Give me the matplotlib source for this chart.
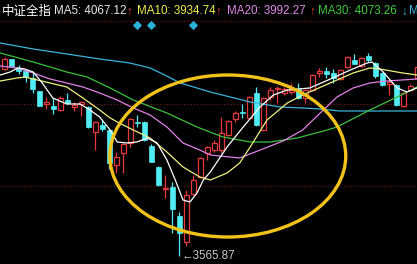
import numpy as np
import matplotlib.pyplot as plt
from matplotlib.patches import Ellipse

# header texts
index_name = "中证全指"
ma_labels = ["MA5: 4067.12", "MA10: 3934.74", "MA20: 3992.27", "MA30: 4073.26"]
ma_trend = ["↑", "↑", "↑", "↓"]
low_label = "3565.87"

# daily candles
opens = [4127, 4157, 4130, 4121, 4100, 4061, 4022, 4016, 4004, 4034,
         4013, 4022, 4013, 3938, 3959, 3944, 3839, 3875, 3905, 3968,
         3968, 3896, 3833, 3767, 3773, 3686, 3608, 3752, 3803, 3875,
         3884, 3884, 3929, 3977, 3998, 3980, 4055, 3944, 4043, 4067,
         4055, 4058, 4067, 4040, 4064, 4115, 4121, 4115, 4097, 4133,
         4154, 4136, 4166, 4145, 4115, 4082, 4079, 4016, 4064, 4100]
highs = [4163, 4157, 4139, 4124, 4118, 4061, 4043, 4040, 4046, 4055,
         4028, 4031, 4016, 3971, 3974, 3947, 3878, 3905, 3980, 3989,
         3971, 3902, 3836, 3809, 3788, 3698, 3764, 3809, 3863, 3896,
         3914, 3983, 3974, 4001, 4022, 4046, 4073, 4043, 4073, 4076,
         4073, 4085, 4085, 4067, 4112, 4130, 4133, 4127, 4127, 4166,
         4172, 4163, 4175, 4148, 4118, 4094, 4082, 4058, 4082, 4136]
lows = [4124, 4136, 4112, 4088, 4055, 4016, 4007, 3992, 4001, 4022,
        4001, 3986, 3950, 3884, 3941, 3827, 3815, 3815, 3893, 3953,
        3911, 3848, 3776, 3740, 3635, 3565.87, 3596, 3749, 3800, 3854,
        3878, 3875, 3926, 3968, 3980, 3977, 3956, 3941, 4034, 4025,
        4049, 4052, 4037, 4025, 4061, 4103, 4100, 4085, 4094, 4130,
        4142, 4133, 4148, 4100, 4076, 4049, 4016, 4013, 4061, 4097]
closes = [4157, 4136, 4121, 4103, 4067, 4016, 4028, 4007, 4040, 4025,
          4019, 4028, 3953, 3968, 3947, 3845, 3863, 3902, 3977, 3965,
          3914, 3848, 3779, 3770, 3707, 3635, 3749, 3794, 3860, 3893,
          3905, 3935, 3971, 3995, 3995, 4043, 3959, 4040, 4064, 4070,
          4067, 4064, 4040, 4064, 4109, 4121, 4112, 4100, 4124, 4163,
          4142, 4160, 4154, 4106, 4079, 4088, 4019, 4055, 4076, 4133]

# moving averages, sampled along the curves (x in candle index)
ma5_x = [-0.6, 0.8, 1.9, 2.9, 4.1, 5.4, 6.9, 8.9, 10.8, 12.2, 13.6, 15.1, 16.1,
         17.5, 18.9, 20.4, 21.8, 23.2, 24.4, 25.5, 26.5, 27.5, 28.4, 29.4,
         31.8, 34.1, 36.5, 38.4, 40.4, 43.6, 44.6, 46.9, 49.4, 51.8, 52.5,
         54.1, 56.1, 57.5, 58.9]
ma5_y = [4109, 4118, 4130, 4127, 4118, 4085, 4040, 4022, 4022, 4004, 3983, 3944,
         3908, 3905, 3908, 3920, 3905, 3854, 3794, 3734, 3728, 3755, 3794, 3818,
         3893, 3953, 4013, 4049, 4064, 4070, 4079, 4100, 4124, 4145, 4148,
         4118, 4070, 4058, 4070]
ma10_x = [-0.6, 1.8, 2.9, 4.1, 6.5, 8.9, 11.2, 13.6, 15.1, 16.1, 18.4, 20.8,
          23.2, 25.5, 27.9, 29.4, 31.8, 33.6, 35.1, 37.5, 40.4, 42.6, 47.5,
          49.8, 52.2, 53.6, 56.9, 58.9]
ma10_y = [4091, 4100, 4103, 4097, 4085, 4073, 4040, 4004, 3980, 3968, 3944, 3920,
          3878, 3833, 3803, 3794, 3815, 3845, 3893, 3974, 4025, 4049, 4094,
          4115, 4130, 4127, 4115, 4109]
ma20_x = [-0.6, 1.8, 4.1, 6.5, 8.9, 11.2, 13.6, 16.1, 18.4, 20.8, 23.2, 25.5,
          27.9, 29.4, 33.6, 36.9, 39.8, 42.6, 45.1, 47.5, 49.8, 52.2, 54.6, 58.9]
ma20_y = [4136, 4130, 4115, 4097, 4085, 4073, 4055, 4034, 4010, 3989, 3953, 3905,
          3884, 3869, 3860, 3887, 3911, 3944, 3995, 4043, 4070, 4085, 4091, 4097]
ma30_x = [-0.6, 4.1, 8.9, 11.8, 15.1, 18.4, 23.2, 27.5, 31.2, 35.1, 37.9, 41.8,
          46.1, 47.5, 52.2, 56.1, 58.9]
ma30_y = [4175, 4148, 4118, 4103, 4070, 4034, 3995, 3953, 3923, 3908, 3908, 3920,
          3944, 3953, 4004, 4043, 4073]
ma60_x = [-0.6, 4.1, 8.9, 13.6, 17.9, 20.8, 22.9, 25.1, 29.4, 35.1, 39.4, 42.6,
          45.1, 47.9, 52.2, 58.9]
ma60_y = [4205, 4187, 4172, 4157, 4145, 4130, 4109, 4085, 4058, 4028, 4013, 4010,
          4007, 4001, 4001, 4001]

# candles marked with a diamond above the chart
marked_days = [19, 21, 27]

UP = '#e8383c'
DOWN = '#50eef4'

fig = plt.figure(figsize=(4.17, 2.64), dpi=100, facecolor='black')
ax = fig.add_axes([0, 0, 1, 1])
ax.set_facecolor('black')
ax.set_xlim(-0.643, 58.93)
ax.set_ylim(3542, 4334)
ax.set_axis_off()

# dotted grid
for p in [4271, 4022, 3776]:
    ax.axhline(p, color='#7a1818', lw=0.8, ls=(0, (1, 2)), zorder=1)

# candles
x = np.arange(len(opens))
o = np.array(opens)
c = np.array(closes)
up = c >= o
col = np.where(up, UP, DOWN)
ax.vlines(x, lows, highs, colors=col, lw=0.9, zorder=2)
bottom = np.minimum(o, c)
height = np.maximum(np.abs(c - o), 1.5)
ax.bar(x[up], height[up], bottom=bottom[up], width=0.64,
       facecolor='black', edgecolor=UP, lw=0.9, zorder=3)
ax.bar(x[~up], height[~up], bottom=bottom[~up], width=0.64,
       facecolor=DOWN, edgecolor=DOWN, lw=0.5, zorder=3)

# moving averages
ax.plot(ma60_x, ma60_y, color='#3cb4dc', lw=0.9, zorder=4)
ax.plot(ma30_x, ma30_y, color='#3cc03c', lw=0.9, zorder=4)
ax.plot(ma20_x, ma20_y, color='#e080e8', lw=0.9, zorder=4)
ax.plot(ma10_x, ma10_y, color='#f0f080', lw=0.9, zorder=4)
ax.plot(ma5_x, ma5_y, color='white', lw=0.9, zorder=4)

# diamonds
ax.scatter(marked_days, [0.905] * len(marked_days), marker='D', s=14,
           color='#2cb0dc', transform=ax.get_xaxis_transform(), zorder=5)

# lowest point label
low_i = int(np.argmin(lows))
ax.text(low_i + 0.35, lows[low_i], "←" + low_label, color='#c8c8c8',
        fontsize=8.4, family=['Liberation Sans', 'DejaVu Sans'],
        va='center', ha='left', zorder=6)

# highlight ellipse
ax.add_patch(Ellipse((31.9, 3866), 33.7, 486, fill=False,
                     edgecolor='#f2c21a', lw=2.4, zorder=7))

# header
W, H = 417.0, 264.0
yh = 1 - 11.5 / H
fnt = ['Liberation Sans', 'DejaVu Sans']
fig.text(2 / W, yh, index_name, color='white', fontsize=9,
         family=['Noto Sans CJK SC', 'DejaVu Sans'], va='center')
label_x = [54, 137, 227, 318]
arrow_x = [126, 215, 309, 401]
label_col = ['#e8e8e8', '#ecec50', '#e088e8', '#3ccc3c']
for lab, tr, lx, axx, lc in zip(ma_labels, ma_trend, label_x, arrow_x, label_col):
    fig.text(lx / W, yh, lab, color=lc, fontsize=8.4, family=fnt, va='center')
    fig.text(axx / W, yh, tr, color='#e0443c' if tr == "↑" else '#3cb4dc',
             fontsize=8.4, family=fnt, va='center')
fig.text(409 / W, yh, "MA60", color='#3cb4dc', fontsize=8.4, family=fnt,
         va='center')

fig.savefig('out.png', dpi=100, facecolor='black')
